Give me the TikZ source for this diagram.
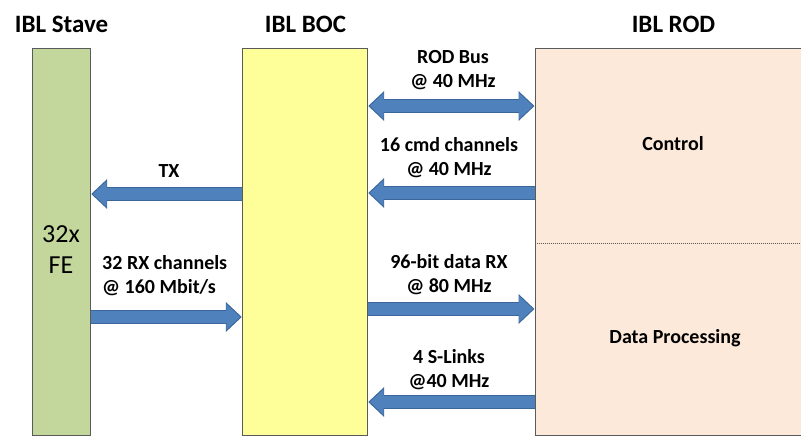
\documentclass[tikz,border=0pt]{standalone}
\usepackage{fontspec}
\setmainfont{Carlito}
\usepackage{xcolor}
\usetikzlibrary{arrows.meta,positioning}

\definecolor{stavegreen}{HTML}{C3D69B}
\definecolor{bocyellow}{HTML}{FFFF99}
\definecolor{rodpeach}{HTML}{FDE9D9}
\definecolor{boxgray}{HTML}{5A5A5A}
\definecolor{arrowblue}{HTML}{4F81BD}
\definecolor{arrowdark}{HTML}{3A6699}

\tikzset{
  block/.style={draw=boxgray, line width=1bp, inner sep=0pt},
  title/.style={font=\fontsize{25bp}{30bp}\selectfont\bfseries},
  lbl/.style={font=\fontsize{20bp}{24bp}\selectfont\bfseries, align=center, inner sep=0pt},
  fatarrow/.style={line width=14bp, draw=arrowdark, -{Triangle[length=16bp,width=29bp]},
    postaction={draw=arrowblue, line width=11.5bp, shorten >=1.6bp,
      -{Triangle[length=13.8bp,width=25bp]}}},
  fatboth/.style={line width=14bp, draw=arrowdark,
    {Triangle[length=16bp,width=29bp]}-{Triangle[length=16bp,width=29bp]},
    postaction={draw=arrowblue, line width=11.5bp, shorten >=1.6bp, shorten <=1.6bp,
      {Triangle[length=13.8bp,width=25bp]}-{Triangle[length=13.8bp,width=25bp]}}}
}

\begin{document}
\begin{tikzpicture}[x=1bp,y=-1bp,line cap=butt]
\useasboundingbox (0,0) rectangle (801,437);
% blocks
\node[block, fill=stavegreen, minimum width=58.4bp, minimum height=387.5bp] (stave) at (61.5,242) {};
\node[block, fill=bocyellow, minimum width=125.4bp, minimum height=387.5bp] (boc) at (305,242) {};
\node[block, fill=rodpeach, minimum width=268bp, minimum height=387.5bp] (rod) at (669,242) {};
% titles
\node[title] (stavetitle) at (61.5,24) {IBL Stave};
\node[title] (boctitle) at (305.5,24) {IBL BOC};
\node[title] (rodtitle) at (673.5,24) {IBL ROD};
% block contents
\node[font=\fontsize{26bp}{31bp}\selectfont, align=center, inner sep=0pt] (fe) at (61,250) {32x\\FE};
\node[lbl] (control) at (673,144) {Control};
\node[lbl] (dataproc) at (675,338) {Data Processing};
\draw[boxgray, line width=0.8bp, dash pattern=on 1bp off 1bp] (rod.west |- 0,243) -- (rod.east |- 0,243);
% links stave <-> boc
\draw[fatarrow] (boc.west |- 0,194) -- (stave.east |- 0,194);
\node[lbl] (tx) at (169,171) {TX};
\draw[fatarrow] (stave.east |- 0,317) -- (boc.west |- 0,317);
\node[lbl, align=left, anchor=west] (rxlbl) at (102,276) {32 RX channels\\@ 160 Mbit/s};
% links boc <-> rod
\draw[fatboth] (boc.east |- 0,106) -- (rod.west |- 0,106);
\node[lbl] (rodbus) at (453,70) {ROD Bus\\@ 40 MHz};
\draw[fatarrow] (rod.west |- 0,193) -- (boc.east |- 0,193);
\node[lbl] (cmd) at (449,158) {16 cmd channels\\@ 40 MHz};
\draw[fatarrow] (boc.east |- 0,309) -- (rod.west |- 0,309);
\node[lbl] (datarx) at (449,275) {96-bit data RX\\@ 80 MHz};
\draw[fatarrow] (rod.west |- 0,402) -- (boc.east |- 0,402);
\node[lbl] (slinks) at (449,370) {4 S-Links\\@40 MHz};
\end{tikzpicture}
\end{document}
